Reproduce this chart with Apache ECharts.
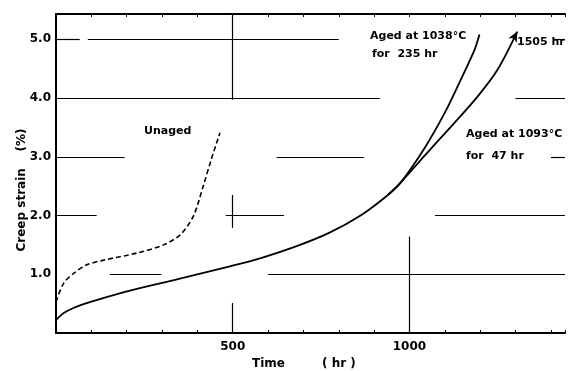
<!DOCTYPE html>
<html><head><meta charset="utf-8">
<script src="https://cdn.jsdelivr.net/npm/echarts@6/dist/echarts.min.js"></script>
<style>html,body{margin:0;padding:0;background:#fff}#c{width:568px;height:371px}</style>
</head><body><div id="c"></div>
<script>
// Time (hr) / creep strain (%)
const unagedTime   = [0, 22, 51, 87, 135, 228, 304, 351, 388, 416, 439, 464];
const unagedStrain = [0.53, 0.85, 1.02, 1.16, 1.24, 1.36, 1.5, 1.67, 1.98, 2.49, 2.95, 3.41];
const baseTime     = [0, 22, 51, 98, 183, 276, 368, 489, 582, 677, 771, 864, 939, 975];
const baseStrain   = [0.22, 0.34, 0.43, 0.53, 0.68, 0.82, 0.95, 1.13, 1.28, 1.47, 1.70, 2.01, 2.35, 2.56];
const aged1038Time   = [1043, 1100, 1145, 1184, 1198];
const aged1038Strain = [3.15, 3.75, 4.31, 4.82, 5.08];
const aged1093Time   = [939, 975, 1043, 1117, 1192, 1249, 1305];
const aged1093Strain = [2.35, 2.56, 3.02, 3.51, 4.02, 4.48, 5.13];
const yTickLabels = ['1.0', '2.0', '3.0', '4.0', '5.0'];
const xTickLabels = ['500', '1000'];
// broken grid line pieces as drawn in the original: [strain, fromTime, toTime]
const hGridPieces = [[5,0,67],[5,90,800],[5,1408,1440],[4,0,916],[4,1300,1440],[3,0,194],[3,624,871],[3,1400,1440],[2,0,115],[2,480,645],[2,1072,1440],[1,152,298],[1,600,1440]];
// [time, fromStrain, toStrain]
const vGridPieces = [[500,3.97,5.43],[500,1.79,2.35],[500,0,0.51],[1000,0,1.64]];

const zip = (a, b) => a.map((v, i) => [v, b[i]]);
const font = 'DejaVu Sans';
const gridLines = hGridPieces.map(p => [{coord:[p[1], p[0]]}, {coord:[p[2], p[0]]}])
  .concat(vGridPieces.map(p => [{coord:[p[0], p[1]]}, {coord:[p[0], p[2]]}]));

const a1093 = zip(aged1093Time, aged1093Strain).map((d, i, arr) =>
  i === arr.length - 1 ? {value: d, symbol: 'arrow', symbolSize: [7, 10], symbolRotate: -28} : {value: d, symbol: 'none'});

const chart = echarts.init(document.getElementById('c'), null, {renderer: 'canvas'});
chart.setOption({
  animation: false,
  backgroundColor: '#fff',
  grid: {left: 56, right: 0, top: 14, bottom: 38},
  xAxis: [{
    type: 'value', min: 0, max: 1440, interval: 100, position: 'bottom',
    axisLine: {lineStyle: {color: '#000', width: 2}},
    axisTick: {inside: true, length: 3, lineStyle: {color: '#000', width: 1}},
    axisLabel: {color: '#000', fontFamily: font, fontWeight: 'bold', fontSize: 12, margin: 8,
      formatter: v => xTickLabels.includes(String(v)) ? String(v) : ''},
    splitLine: {show: false}
  }, {
    type: 'value', min: 0, max: 1440, interval: 100, position: 'top',
    axisLine: {lineStyle: {color: '#000', width: 2}},
    axisTick: {inside: true, length: 3, lineStyle: {color: '#000', width: 1}},
    axisLabel: {show: false}, splitLine: {show: false}
  }],
  yAxis: {
    type: 'value', min: 0, max: 5.43, interval: 1,
    axisLine: {show: true, lineStyle: {color: '#000', width: 2}},
    axisTick: {show: false},
    axisLabel: {color: '#000', fontFamily: font, fontWeight: 'bold', fontSize: 12, margin: 5,
      formatter: v => { const s = v.toFixed(1); return yTickLabels.includes(s) ? s : ''; }},
    splitLine: {show: false}
  },
  series: [
    {type: 'line', data: [], markLine: {silent: true, symbol: 'none', label: {show: false},
      lineStyle: {color: '#000', width: 1.2, type: 'solid'}, data: gridLines}},
    {type: 'line', data: zip(unagedTime, unagedStrain), showSymbol: false, smooth: 0.3,
      lineStyle: {color: '#000', width: 1.6, type: [5, 3]}},
    {type: 'line', data: zip(baseTime, baseStrain).concat(zip(aged1038Time, aged1038Strain)), showSymbol: false,
      smooth: 0.3, lineStyle: {color: '#000', width: 1.8}},
    {type: 'line', data: a1093, smooth: 0.3, showSymbol: true, itemStyle: {color: '#000'},
      lineStyle: {color: '#000', width: 1.8}}
  ],
  graphic: [
    {type: 'text', left: 144, top: 126, style: {text: 'Unaged', font: 'bold 11px "DejaVu Sans"', fill: '#000'}},
    {type: 'text', left: 370, top: 31, style: {text: 'Aged at 1038°C', font: 'bold 11px "DejaVu Sans"', fill: '#000'}},
    {type: 'text', left: 372, top: 49, style: {text: 'for  235 hr', font: 'bold 11px "DejaVu Sans"', fill: '#000'}},
    {type: 'text', left: 517, top: 37, style: {text: '1505 hr', font: 'bold 11px "DejaVu Sans"', fill: '#000'}},
    {type: 'text', left: 466, top: 129, style: {text: 'Aged at 1093°C', font: 'bold 11px "DejaVu Sans"', fill: '#000'}},
    {type: 'text', left: 466, top: 151, style: {text: 'for  47 hr', font: 'bold 11px "DejaVu Sans"', fill: '#000'}},
    {type: 'text', left: 252, top: 358, style: {text: 'Time', font: 'bold 12px "DejaVu Sans"', fill: '#000'}},
    {type: 'text', left: 322, top: 358, style: {text: '( hr )', font: 'bold 12px "DejaVu Sans"', fill: '#000'}},
    {type: 'text', x: 22, y: 190, rotation: Math.PI / 2,
      style: {text: 'Creep strain    (%)', font: 'bold 12px "DejaVu Sans"', fill: '#000', align: 'center', verticalAlign: 'middle'}}
  ]
});
</script></body></html>
